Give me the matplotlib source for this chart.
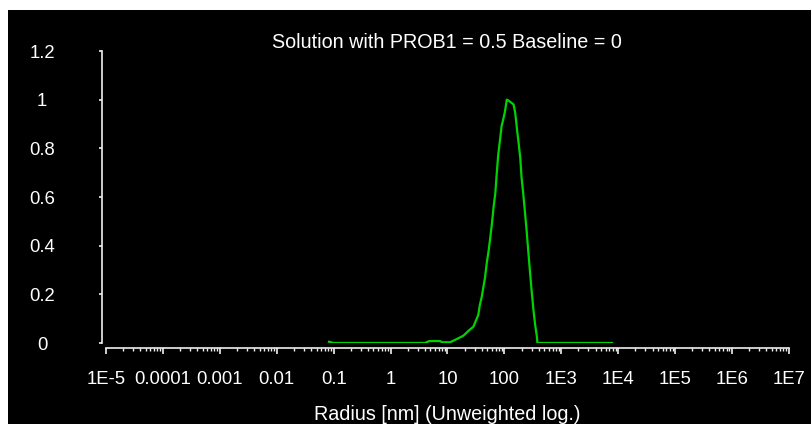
import numpy as np
import matplotlib
matplotlib.use("Agg")
import matplotlib.pyplot as plt
from matplotlib.patches import Rectangle
from matplotlib.ticker import LogLocator, NullFormatter

plt.rcParams['font.family'] = ['Liberation Sans', 'DejaVu Sans']

# data
radius = [0.083, 0.1, 4.0, 4.8, 7.4, 8.0, 11.1, 14.5, 19, 23.4, 28.5, 34.7, 37, 40,
          42.7, 45.7, 49, 52.5, 56.2, 60.3, 64.6, 69.2, 72.4, 77.6, 83.2, 89.1,
          95.5, 102, 110, 117, 145, 155, 166, 178, 190, 200, 214, 229, 245, 263,
          282, 302, 324, 347, 372, 380, 7800]
intensity = [0.005, 0.0, 0.0, 0.008, 0.008, 0.003, 0.003, 0.016, 0.03, 0.05, 0.067,
             0.115, 0.156, 0.19, 0.23, 0.27, 0.33, 0.375, 0.43, 0.49, 0.56, 0.615,
             0.68, 0.77, 0.83, 0.89, 0.92, 0.95, 1.0, 0.997, 0.98, 0.945, 0.88, 0.82,
             0.76, 0.68, 0.615, 0.54, 0.465, 0.375, 0.29, 0.21, 0.135, 0.074, 0.026,
             0.0, 0.0]

xticks = [1e-5, 1e-4, 1e-3, 1e-2, 1e-1, 1, 10, 100, 1e3, 1e4, 1e5, 1e6, 1e7]
xlabels = ['1E-5', '0.0001', '0.001', '0.01', '0.1', '1', '10', '100',
           '1E3', '1E4', '1E5', '1E6', '1E7']
yticks = [0, 0.2, 0.4, 0.6, 0.8, 1.0, 1.2]
ylabels = ['0', '0.2', '0.4', '0.6', '0.8', '1', '1.2']

title = 'Solution with PROB1 = 0.5 Baseline = 0'
xlabel = 'Radius [nm] (Unweighted log.)'

W, H = 812, 424
fig = plt.figure(figsize=(W / 100, H / 100), dpi=100)
fig.patch.set_facecolor('white')
fig.add_artist(Rectangle((8 / W, 0), 1, (H - 10) / H, transform=fig.transFigure,
                         facecolor='black', edgecolor='none', zorder=-10))

ax = fig.add_axes([106 / W, (H - 343) / H, 683 / W, 292 / H])
ax.set_facecolor('none')

ax.plot(radius, intensity, color='#00d400', lw=1.6)

ax.set_xscale('log')
ax.set_xlim(1e-5, 1e7)
ax.set_ylim(0, 1.2)

fg = '#f0f0f0'
for s in ['top', 'right']:
    ax.spines[s].set_visible(False)
ax.spines['bottom'].set_color(fg)
ax.spines['left'].set_color(fg)
ax.spines['bottom'].set_position(('outward', 3.6))
ax.spines['left'].set_position(('outward', 2.9))
ax.spines['bottom'].set_linewidth(1.2)
ax.spines['left'].set_linewidth(1.2)

ax.set_xticks(xticks)
ax.set_xticklabels(xlabels)
ax.xaxis.set_minor_locator(LogLocator(base=10, subs=np.arange(2, 10), numticks=100))
ax.xaxis.set_minor_formatter(NullFormatter())
ax.set_yticks(yticks)
ax.set_yticklabels(ylabels)

ax.tick_params(axis='x', which='major', direction='out', length=4.5, width=1.2,
               color=fg, labelcolor='white', labelsize=13.3, pad=12)
ax.tick_params(axis='x', which='minor', direction='out', length=2, width=1.0, color=fg)
ax.tick_params(axis='y', which='major', direction='out', length=2.2, width=1.2,
               color=fg, labelcolor='white', labelsize=13.3, pad=41)
for lab in ax.get_yticklabels():
    lab.set_horizontalalignment('center')
# labels are painted on black boxes, so 0.001 hides the tail of 0.0001
for lab in ax.get_xticklabels():
    lab.set_bbox(dict(facecolor='black', edgecolor='none', pad=4))

fig.text(446.5 / W, 1 - 43 / H, title, color='white', fontsize=14.2,
         ha='center', va='center')
fig.text(447.5 / W, 1 - 414 / H, xlabel, color='white', fontsize=14.2,
         ha='center', va='center')

fig.savefig('out.png', dpi=100, facecolor=fig.get_facecolor())
